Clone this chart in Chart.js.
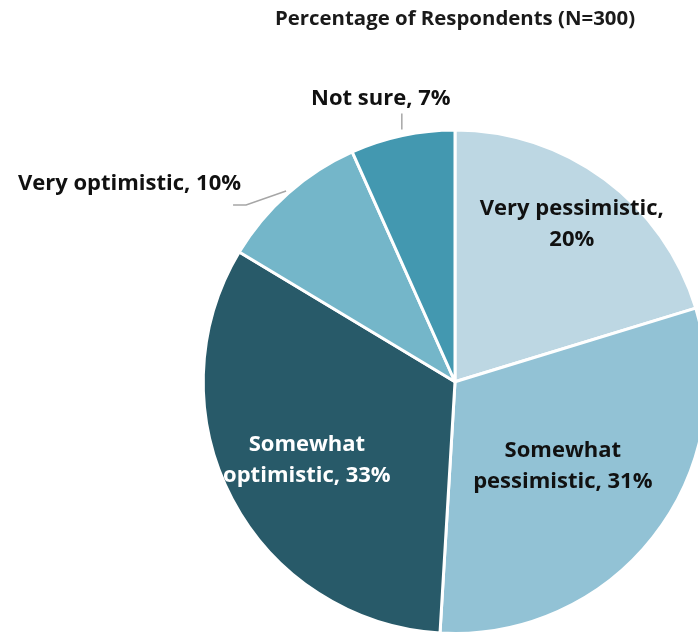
<!DOCTYPE html>
<html>
<head>
<meta charset="utf-8">
<script src="https://cdn.jsdelivr.net/npm/chart.js@4/dist/chart.umd.min.js"></script>
<style>
  html, body { margin: 0; padding: 0; background: #fff; overflow: hidden; }
  #wrap { width: 698px; height: 635px; overflow: hidden; position: relative; }
  canvas { display: block; }
</style>
</head>
<body>
<div id="wrap"><canvas id="pie" width="910" height="635"></canvas></div>
<script>
const categories = ['Very pessimistic', 'Somewhat pessimistic', 'Somewhat optimistic', 'Very optimistic', 'Not sure'];
const percents = [20.3, 30.7, 32.7, 9.7, 6.7];
const sliceColors = ['#bdd7e3', '#92c2d5', '#285a69', '#74b6c9', '#4398b0'];
const labelColors = ['#111111', '#111111', '#ffffff', '#111111', '#111111'];

// how each label is broken into lines
function labelLines(i) {
  const pct = Math.round(percents[i]) + '%';
  const name = categories[i];
  if (i === 0) return [name + ',', pct];
  if (i === 1 || i === 2) {
    const parts = name.split(' ');
    return [parts[0], parts[1] + ', ' + pct];
  }
  return [name + ', ' + pct];
}

// inside labels: distance from centre as a fraction of radius
const insideFactor = [0.78, 0.545, 0.665];

const FONT = 'bold 22px "Open Sans", sans-serif';
const LINE_H = 31;

const labelPlugin = {
  id: 'sliceLabels',
  afterDatasetsDraw(chart) {
    const ctx = chart.ctx;
    const arcs = chart.getDatasetMeta(0).data;
    ctx.save();
    ctx.font = FONT;
    ctx.textAlign = 'center';
    ctx.textBaseline = 'middle';
    arcs.forEach((arc, i) => {
      const { x, y, startAngle, endAngle, outerRadius } = arc.getProps(['x', 'y', 'startAngle', 'endAngle', 'outerRadius'], true);
      const mid = (startAngle + endAngle) / 2;
      const lines = labelLines(i);
      ctx.fillStyle = labelColors[i];
      if (i < 3) {
        const cx = x + Math.cos(mid) * outerRadius * insideFactor[i];
        const cy = y + Math.sin(mid) * outerRadius * insideFactor[i];
        const top = cy - (lines.length - 1) * LINE_H / 2;
        lines.forEach((t, k) => ctx.fillText(t, cx, top + k * LINE_H));
      } else {
        // leader line from the slice edge
        const ex = x + Math.cos(mid) * (outerRadius + 3);
        const ey = y + Math.sin(mid) * (outerRadius + 3);
        ctx.strokeStyle = '#a6a6a6';
        ctx.lineWidth = 1.5;
        ctx.beginPath();
        if (i === 3) {
          ctx.moveTo(ex, ey);
          ctx.lineTo(ex - 40, ey + 14);
          ctx.lineTo(ex - 53, ey + 14);
          ctx.stroke();
          ctx.textAlign = 'right';
          ctx.fillText(lines[0], ex - 45, ey - 7);
          ctx.textAlign = 'center';
        } else {
          ctx.moveTo(ex, ey - 3);
          ctx.lineTo(ex, ey - 19);
          ctx.stroke();
          ctx.fillText(lines[0], ex - 21, ey - 34);
        }
      }
    });
    ctx.restore();
  }
};

new Chart(document.getElementById('pie'), {
  type: 'pie',
  data: {
    labels: categories,
    datasets: [{
      data: percents,
      backgroundColor: sliceColors,
      borderColor: '#ffffff',
      borderWidth: 3,
      hoverOffset: 0
    }]
  },
  options: {
    responsive: false,
    animation: false,
    layout: { padding: { top: 0, bottom: 0, left: 0, right: 0 } },
    plugins: {
      legend: { display: false },
      tooltip: { enabled: false },
      title: {
        display: true,
        text: 'Percentage of Respondents (N=300)',
        color: '#1a1a1a',
        font: { family: '"Open Sans", sans-serif', size: 20.4, weight: 'bold', lineHeight: 1.2 },
        padding: { top: 7, bottom: 97 }
      }
    }
  },
  plugins: [labelPlugin]
});
</script>
</body>
</html>
